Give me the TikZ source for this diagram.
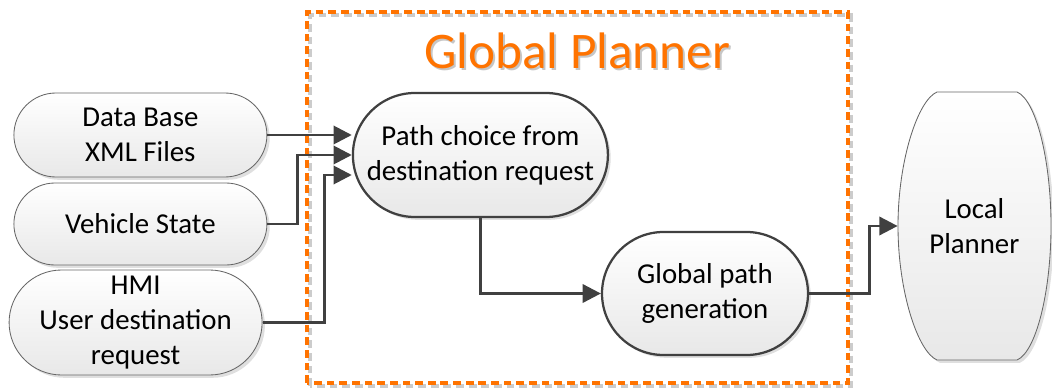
\documentclass[tikz,border=0pt]{standalone}
\usepackage{fontspec}
\setmainfont{Carlito}
\usetikzlibrary{arrows.meta,shapes.misc,shadows}

\begin{document}
\begin{tikzpicture}[
		font=\fontsize{20.5}{25}\selectfont,
		inbox/.style={rounded rectangle, draw=black!60, line width=0.6pt, top color=white, bottom color=black!9, align=center, inner sep=0pt, drop shadow={shadow xshift=2pt, shadow yshift=-2pt, opacity=0.25}},
		stepbox/.style={rounded rectangle, draw=black!75, line width=1.6pt, top color=white, bottom color=black!9, align=center, inner sep=0pt, drop shadow={shadow xshift=2pt, shadow yshift=-2pt, opacity=0.25}},
		arr/.style={draw=black!75, line width=2pt, -{Triangle[length=13pt, width=13pt]}},
		frame/.style={line width=2.6pt, dash pattern=on 5.5pt off 3.5pt}
	]
		\useasboundingbox (0, 0) rectangle (26.3, 9.75);
		
		\draw[frame, gray!40] (7.75, 0.1) rectangle (21.275, 9.375);
		\draw[frame, orange!90!red] (7.675, 0.175) rectangle (21.2, 9.45);
		
		\node[text=gray!45, font=\fontsize{36.5}{40}\selectfont] at (14.48, 8.425) {Global Planner};
		\node[text=orange!90!red, font=\fontsize{36.5}{40}\selectfont] (title) at (14.43, 8.475) {Global Planner};
		
		\node[inbox, minimum width=6.325cm, minimum height=2.1cm] (db) at (3.51, 6.375) {Data Base\\XML Files};
		\node[inbox, minimum width=6.325cm, minimum height=2.05cm] (vs) at (3.51, 4.15) {Vehicle State};
		\node[inbox, minimum width=6.325cm, minimum height=2.625cm] (hmi) at (3.39, 1.6875) {HMI\\User destination\\request};
		
		\node[stepbox, minimum width=6.375cm, minimum height=3.1cm] (pc) at (12.01, 5.875) {Path choice from\\destination request};
		\node[stepbox, minimum width=5.15cm, minimum height=3.075cm] (gpg) at (17.625, 2.4125) {Global path\\generation};
		
		\node[minimum width=3.825cm, minimum height=6.7cm, align=center] (local) at (24.36, 4.1) {};
		\draw[draw=black!60, line width=0.6pt, top color=white, bottom color=black!9, drop shadow={shadow xshift=2pt, shadow yshift=-2pt, opacity=0.25}]
			(23.425, 7.45) -- (25.425, 7.45) .. controls (25.9, 7.25) and (26.275, 5.75) .. (26.275, 4.1)
			.. controls (26.275, 2.45) and (25.9, 0.95) .. (25.425, 0.75) -- (23.425, 0.75)
			.. controls (22.95, 0.95) and (22.45, 2.45) .. (22.45, 4.1)
			.. controls (22.45, 5.75) and (22.95, 7.25) .. (23.425, 7.45) -- cycle;
		\node[align=center] at (local) {Local\\Planner};
		
		\draw[arr] (db.east) -- (db.east -| pc.west);
		\draw[arr] (vs.east) -- ++(0.75, 0) |- (pc.west);
		\draw[arr] (hmi.east) -- ++(1.55, 0) |- ([yshift=-0.5cm]pc.west);
		\draw[arr] (pc.south) |- (gpg.west);
		\draw[arr] (gpg.east) -- ++(1.5, 0) |- (local.west);
	\end{tikzpicture}
\end{document}
